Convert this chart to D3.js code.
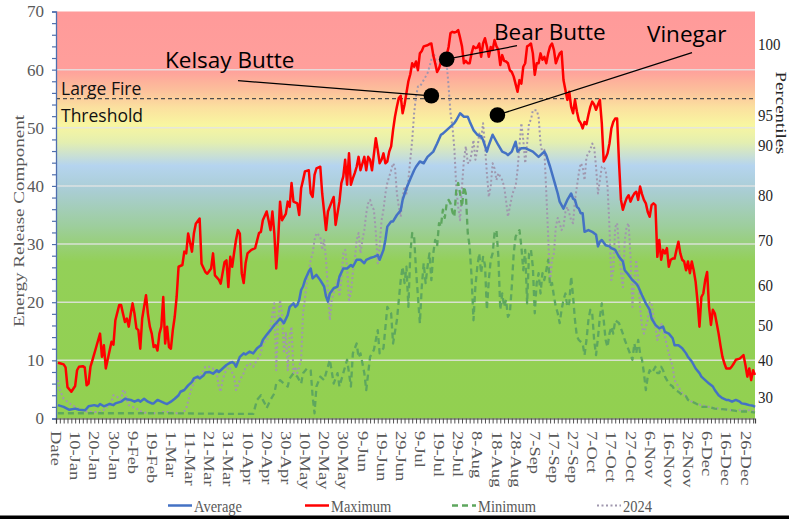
<!DOCTYPE html>
<html>
<head>
<meta charset="utf-8">
<script src="https://cdn.jsdelivr.net/npm/d3@7"></script>
<style>
  body { margin: 0; background: #fff; }
  svg { display: block; }
</style>
</head>
<body>
<div id="chart"></div>
<script>
// ERC climatology chart: max / avg / min of history plus 2024, by day of year

// x categories: index 0 is the "Date" header, then 1-Jan .. 31-Dec (365 days)
var xTickLabels = ["Date","10-Jan","20-Jan","30-Jan","9-Feb","19-Feb","1-Mar","11-Mar","21-Mar","31-Mar",
  "10-Apr","20-Apr","30-Apr","10-May","20-May","30-May","9-Jun","19-Jun","29-Jun","9-Jul","19-Jul",
  "29-Jul","8-Aug","18-Aug","28-Aug","7-Sep","17-Sep","27-Sep","7-Oct","17-Oct","27-Oct","6-Nov",
  "16-Nov","26-Nov","6-Dec","16-Dec","26-Dec"];

// right-hand percentile labels and the ERC value each one sits at
var pctLabels = [100, 95, 90, 80, 70, 60, 50, 40, 30];
var pctErc = [64.4, 52.2, 47.0, 38.4, 30.7, 23.0, 16.1, 10.1, 3.7];

var thresholdErc = 55;

// [day of year, ERC]
var maxSeries = [[1,9.6],[2,9.5],[4,9.3],[5,8.8],[6,5.4],[8,4.6],[10,5.6],[11,8.3],[12,8.9],[14,9.0],[15,8.8],[16,5.7],[17,6.0],[18,8.9],[19,10.0],[21,12.3],[23,14.6],[24,10.6],[25,12.6],[26,8.6],[28,11.7],[29,13.2],[30,12.7],[31,16.9],[33,19.5],[34,19.5],[35,18.0],[36,16.6],[37,17.2],[38,15.8],[39,18.0],[40,19.8],[41,18.0],[42,15.5],[43,15.2],[44,12.0],[45,17.2],[46,19.2],[47,21.2],[48,18.0],[49,15.8],[50,14.6],[51,12.3],[52,12.6],[53,11.7],[54,14.6],[55,15.8],[56,20.9],[57,12.9],[58,15.8],[59,12.3],[60,12.0],[61,15.2],[62,17.5],[63,20.9],[64,26.1],[66,26.4],[67,28.7],[68,28.4],[69,31.8],[71,28.7],[72,31.8],[73,33.5],[75,34.4],[76,26.6],[78,25.2],[79,24.9],[81,25.8],[82,28.4],[83,24.6],[85,23.9],[86,23.2],[88,26.9],[89,27.2],[90,22.6],[91,27.8],[92,26.1],[93,28.5],[94,30.7],[95,32.4],[96,31.8],[97,25.0],[98,23.3],[99,26.7],[100,28.4],[102,29.0],[104,29.3],[106,31.9],[107,32.1],[108,34.1],[110,35.6],[111,34.1],[112,32.4],[113,35.6],[114,31.9],[115,25.8],[116,30.7],[117,37.3],[118,34.1],[120,35.2],[121,37.3],[122,36.4],[123,40.5],[124,37.3],[126,37.0],[127,35.0],[128,39.6],[129,41.0],[130,42.5],[132,42.7],[133,38.7],[134,38.1],[135,41.9],[136,43.0],[138,43.3],[139,38.7],[140,35.6],[141,32.4],[142,35.6],[144,37.3],[145,38.1],[146,33.3],[148,37.3],[149,40.5],[150,41.6],[151,44.5],[152,40.2],[153,45.6],[154,40.2],[155,41.3],[156,42.2],[157,43.3],[158,45.0],[159,42.7],[161,45.0],[162,42.7],[163,45.0],[164,44.5],[165,42.7],[167,48.2],[168,46.2],[169,43.9],[170,44.5],[171,45.6],[172,43.9],[173,44.2],[174,45.9],[175,46.8],[176,49.6],[177,51.9],[178,53.6],[179,55.1],[180,55.5],[181,52.5],[182,54.0],[183,56.0],[184,58.0],[185,59.2],[186,61.1],[187,60.5],[188,61.4],[189,59.9],[190,62.8],[191,63.2],[192,64.0],[194,64.2],[195,64.4],[196,64.5],[197,62.5],[198,61.1],[199,59.6],[200,60.2],[201,61.3],[202,61.6],[203,61.1],[204,62.5],[205,63.9],[206,66.3],[207,66.5],[208,66.4],[209,66.5],[210,66.8],[211,65.5],[212,64.0],[213,61.1],[214,61.5],[215,61.1],[216,61.1],[217,62.8],[218,64.0],[219,63.7],[220,63.8],[221,64.5],[222,62.2],[223,64.5],[224,65.4],[225,64.0],[226,62.2],[227,63.9],[228,63.4],[229,65.1],[230,64.0],[231,63.4],[232,60.8],[233,62.5],[234,61.5],[235,61.4],[236,61.1],[237,59.9],[238,59.6],[239,58.8],[240,57.5],[241,56.2],[242,58.2],[243,57.6],[244,60.5],[245,61.1],[246,64.0],[247,64.2],[248,64.5],[249,62.8],[250,59.1],[251,61.1],[252,61.1],[253,62.8],[254,61.7],[255,62.2],[256,61.1],[257,62.8],[258,64.0],[259,64.5],[260,63.4],[261,61.1],[262,62.0],[263,62.8],[264,63.1],[265,58.2],[266,56.5],[267,54.8],[268,56.2],[269,53.6],[270,52.5],[271,54.8],[272,52.8],[273,51.3],[274,50.8],[275,49.9],[276,51.0],[277,50.6],[278,52.2],[279,53.6],[280,54.5],[281,54.0],[282,53.1],[283,54.0],[284,54.8],[285,50.8],[286,44.2],[287,44.8],[288,45.6],[289,47.3],[290,49.9],[291,51.0],[292,51.6],[293,51.6],[294,44.0],[295,37.6],[296,35.9],[297,37.0],[298,37.9],[299,38.4],[300,37.3],[301,38.1],[302,38.7],[303,39.0],[304,37.6],[305,39.9],[306,38.6],[307,37.6],[308,37.0],[309,35.5],[310,34.7],[311,36.7],[312,37.0],[313,36.7],[314,27.8],[315,30.7],[316,27.3],[317,29.0],[318,28.4],[319,29.3],[320,26.1],[321,27.3],[322,27.5],[323,27.5],[324,29.0],[325,30.4],[326,28.4],[327,27.3],[328,27.0],[329,25.5],[330,27.0],[331,25.0],[332,27.0],[333,25.5],[334,23.5],[335,20.1],[336,15.8],[337,20.9],[338,21.5],[339,23.8],[340,25.2],[341,19.2],[342,16.1],[343,18.7],[344,18.1],[345,16.4],[346,14.6],[347,12.5],[348,10.6],[349,9.5],[350,8.6],[352,8.6],[353,9.0],[354,9.5],[355,10.1],[357,10.3],[358,10.6],[359,10.9],[360,9.2],[361,7.2],[362,8.6],[363,6.6],[364,8.3],[365,7.5]];

var avgSeries = [[1,2.3],[4,2.0],[7,1.5],[10,1.7],[12,1.5],[15,1.4],[16,1.7],[17,2.1],[20,2.3],[22,2.1],[23,2.5],[25,2.1],[28,2.5],[30,2.3],[31,2.6],[34,2.9],[36,3.4],[37,3.3],[39,3.2],[41,2.9],[43,3.2],[44,2.9],[46,3.4],[48,2.9],[50,2.6],[51,2.6],[53,3.2],[55,2.9],[57,2.6],[58,2.5],[60,2.9],[62,3.4],[64,4.0],[65,4.6],[67,4.9],[69,5.7],[71,6.3],[72,6.9],[74,7.2],[75,6.9],[77,7.4],[78,7.9],[80,8.0],[82,7.7],[84,8.3],[85,8.0],[87,8.6],[89,9.2],[91,9.6],[92,9.7],[93,9.5],[94,8.9],[96,10.6],[98,11.2],[99,11.0],[101,11.5],[103,11.2],[105,12.1],[107,12.6],[108,13.5],[110,14.4],[112,15.2],[114,16.1],[115,16.4],[117,17.2],[119,16.4],[121,17.8],[122,19.2],[124,19.8],[125,19.2],[126,19.5],[127,20.4],[128,22.1],[129,22.7],[130,23.8],[132,25.3],[133,25.8],[134,24.1],[135,24.4],[136,24.7],[138,23.8],[140,22.7],[141,21.0],[142,20.1],[143,21.5],[145,22.4],[147,22.7],[148,24.4],[150,25.8],[152,25.8],[154,26.4],[155,26.1],[157,27.3],[159,27.3],[161,26.7],[162,27.3],[164,27.6],[166,27.8],[168,28.1],[169,27.3],[171,29.0],[172,30.7],[173,33.0],[175,33.9],[176,33.9],[178,35.0],[180,35.8],[181,37.6],[183,39.6],[185,41.2],[187,42.7],[188,43.3],[190,44.2],[192,43.9],[194,45.0],[195,45.3],[197,45.9],[199,47.3],[201,48.8],[202,49.0],[204,49.6],[206,50.2],[208,50.8],[209,51.3],[211,52.5],[213,51.9],[215,51.9],[216,51.1],[218,49.6],[220,48.8],[222,48.5],[223,47.9],[225,45.9],[226,47.0],[228,48.8],[229,48.2],[231,47.0],[233,45.9],[235,45.6],[236,45.3],[238,45.9],[240,47.6],[241,45.9],[243,46.5],[245,46.5],[247,46.2],[249,45.9],[250,45.6],[252,45.0],[254,45.6],[255,45.9],[256,45.3],[258,43.3],[260,41.0],[262,38.7],[263,37.3],[265,36.1],[267,37.6],[269,38.7],[270,37.8],[271,37.6],[272,36.4],[273,36.1],[274,35.3],[275,35.3],[276,32.1],[278,32.4],[280,32.1],[282,31.6],[283,29.6],[284,30.4],[285,30.7],[287,29.8],[289,29.6],[290,29.3],[292,29.0],[294,27.8],[296,27.0],[297,25.5],[299,24.7],[301,23.8],[303,23.2],[304,22.7],[306,21.2],[308,19.8],[310,18.7],[311,17.2],[313,16.1],[315,15.5],[317,15.8],[318,14.9],[320,14.6],[322,13.8],[323,12.6],[325,12.6],[327,12.1],[329,11.2],[330,10.6],[332,9.8],[334,8.6],[336,7.8],[337,7.2],[339,6.6],[341,6.0],[343,5.5],[344,4.9],[346,4.0],[348,3.5],[350,3.2],[351,3.2],[353,2.9],[355,3.2],[357,2.9],[358,2.6],[360,2.5],[362,2.3],[364,2.2],[365,2.0]];

var minSeries = [[1,0.9],[30,0.9],[60,0.9],[90,0.8],[103,0.8],[105,3.2],[107,4.0],[108,3.2],[109,2.6],[110,1.8],[112,3.2],[114,4.3],[115,6.0],[117,6.6],[119,6.0],[121,5.5],[122,6.9],[124,7.8],[126,7.2],[128,6.0],[129,7.8],[131,8.6],[133,8.3],[134,3.8],[135,0.9],[136,5.5],[138,7.2],[140,6.6],[141,7.8],[143,10.1],[145,6.0],[147,7.8],[148,5.5],[150,7.8],[152,10.1],[154,5.5],[155,11.2],[157,12.9],[158,10.5],[159,11.2],[161,7.8],[162,4.9],[164,10.6],[166,11.8],[168,15.2],[169,11.2],[171,12.1],[173,19.2],[175,18.1],[176,12.9],[178,16.9],[180,23.8],[181,26.1],[182,23.3],[183,26.1],[184,19.2],[185,28.4],[186,31.9],[187,31.3],[188,25.5],[189,21.0],[190,16.4],[191,22.7],[192,26.7],[193,23.3],[194,26.1],[195,28.4],[196,23.8],[197,28.4],[198,30.7],[199,29.6],[200,33.6],[201,33.0],[202,35.9],[203,34.5],[204,37.0],[205,37.6],[206,37.0],[207,35.5],[208,34.7],[209,39.3],[210,40.5],[211,38.7],[212,36.4],[213,39.9],[214,38.7],[215,31.9],[216,29.6],[217,24.4],[218,16.9],[219,22.7],[220,26.1],[221,28.4],[222,25.0],[223,27.8],[224,26.4],[225,18.7],[226,23.8],[227,27.3],[228,28.4],[229,31.9],[230,32.4],[231,27.8],[232,18.7],[233,21.5],[234,19.2],[235,20.4],[236,17.5],[237,18.1],[238,22.7],[239,28.4],[240,31.3],[241,31.9],[242,32.4],[243,29.6],[244,25.5],[245,29.0],[246,19.8],[247,28.4],[248,29.0],[249,26.1],[250,18.1],[251,23.3],[252,25.0],[253,21.5],[254,25.0],[255,23.8],[256,25.5],[257,27.3],[258,22.7],[259,23.3],[260,21.0],[261,19.2],[262,18.1],[263,16.4],[264,18.7],[265,20.4],[266,21.5],[267,19.2],[268,19.8],[269,24.4],[270,21.0],[271,16.9],[272,14.1],[273,13.5],[275,12.9],[276,10.9],[277,13.5],[278,16.9],[279,18.7],[280,18.1],[281,13.5],[282,10.9],[283,13.9],[284,17.5],[285,19.8],[286,16.9],[287,13.5],[288,12.3],[289,14.6],[290,15.8],[291,14.6],[292,16.9],[294,16.4],[296,14.6],[297,13.5],[299,11.8],[301,10.1],[302,12.9],[303,11.2],[304,13.5],[305,11.2],[306,10.1],[307,7.8],[308,4.9],[309,7.2],[310,8.3],[311,7.8],[312,8.3],[313,8.9],[314,7.8],[315,7.8],[316,8.9],[317,8.3],[318,7.2],[320,6.0],[322,5.5],[323,4.9],[325,4.6],[327,4.0],[329,3.8],[330,3.2],[332,2.9],[334,2.6],[337,2.0],[341,2.0],[344,1.7],[348,1.6],[351,1.5],[355,1.3],[358,1.2],[362,1.2],[365,1.0]];

var y2024Series = [[1,6.6],[2,4.9],[4,3.4],[7,2.6],[10,2.0],[14,1.4],[17,1.1],[23,1.1],[26,1.7],[29,2.9],[30,4.0],[32,3.7],[34,3.2],[35,4.9],[36,4.6],[37,3.2],[38,2.3],[42,1.7],[45,1.1],[49,0.9],[52,0.9],[56,1.1],[59,1.1],[63,0.9],[66,0.9],[68,1.7],[70,4.3],[71,5.4],[73,6.9],[75,7.2],[77,8.3],[78,8.9],[80,8.9],[82,8.6],[84,7.7],[85,5.4],[86,4.6],[87,6.6],[88,7.7],[90,8.9],[91,8.6],[93,7.2],[94,4.9],[96,6.6],[98,7.8],[99,8.9],[101,9.5],[103,8.9],[105,10.1],[107,11.2],[108,12.9],[110,13.5],[111,14.1],[112,15.8],[113,18.1],[114,19.8],[115,8.3],[116,16.9],[117,20.4],[118,18.1],[119,11.2],[120,14.9],[121,8.3],[122,14.1],[123,15.8],[124,7.8],[125,8.9],[126,7.8],[128,10.1],[129,18.1],[131,23.3],[133,27.3],[134,28.4],[135,30.7],[136,31.9],[138,31.3],[139,29.0],[140,30.7],[141,27.3],[142,22.1],[143,16.9],[144,20.5],[145,21.5],[146,22.7],[147,23.8],[148,21.0],[149,23.8],[150,28.4],[151,29.0],[152,26.1],[153,20.4],[154,21.5],[155,25.0],[156,27.3],[157,30.7],[158,31.9],[159,28.4],[160,30.7],[161,32.4],[162,35.3],[163,37.0],[164,37.6],[165,36.4],[166,35.9],[167,32.0],[168,26.7],[169,29.6],[170,34.1],[171,35.9],[172,38.7],[173,40.5],[175,42.7],[176,43.9],[177,43.3],[178,38.7],[179,36.4],[180,34.7],[181,38.1],[182,39.9],[183,38.7],[184,41.0],[185,44.5],[186,47.9],[187,52.5],[188,55.4],[189,57.1],[190,57.1],[192,58.2],[194,59.4],[195,60.5],[196,61.7],[197,62.8],[198,62.2],[199,59.9],[200,60.2],[201,61.7],[202,62.8],[203,62.0],[204,61.1],[205,57.1],[206,52.5],[207,50.2],[208,46.5],[209,39.9],[210,36.4],[211,34.1],[212,39.9],[213,44.5],[214,46.8],[215,44.0],[216,43.9],[217,45.6],[218,47.9],[219,44.5],[220,46.2],[221,49.0],[222,48.0],[223,50.8],[224,46.8],[225,42.2],[226,38.1],[227,39.9],[228,43.9],[229,43.0],[230,41.0],[231,42.2],[232,41.6],[233,41.0],[234,39.9],[235,37.5],[236,34.7],[237,36.4],[238,38.1],[239,39.3],[240,39.9],[241,42.7],[242,47.0],[243,50.8],[244,47.9],[245,43.9],[246,47.3],[247,50.8],[248,51.4],[249,53.0],[250,53.0],[251,53.0],[252,51.9],[253,47.3],[254,45.6],[255,46.2],[256,39.0],[257,31.3],[258,23.3],[259,27.3],[260,28.4],[261,33.0],[262,34.5],[263,33.6],[264,32.4],[265,33.0],[266,35.5],[267,36.4],[268,35.3],[269,34.1],[270,33.6],[271,37.6],[272,39.9],[273,42.2],[274,43.9],[275,43.3],[276,41.0],[277,45.0],[278,45.6],[279,46.2],[280,47.3],[281,46.7],[282,43.3],[283,38.7],[284,41.0],[285,43.3],[286,43.3],[287,42.7],[288,39.9],[289,32.9],[290,23.8],[291,25.5],[292,32.9],[293,33.6],[294,29.6],[295,25.0],[296,22.6],[297,30.7],[298,33.0],[299,33.6],[300,27.8],[301,19.2],[302,23.8],[303,27.3],[304,24.0],[305,19.2],[306,15.8],[307,14.6],[308,15.8],[309,17.0],[310,20.0],[311,19.8],[312,17.5],[313,15.8],[314,13.5],[315,14.6],[316,16.4],[317,15.2],[318,14.0],[320,11.2],[322,8.9],[323,6.6],[325,5.5],[327,4.3],[329,3.8],[330,3.2],[334,2.6],[337,2.3],[341,2.0],[344,1.8],[348,1.6],[351,1.5],[355,1.3],[358,1.5],[362,1.4],[365,1.2]];

// fires marked on the chart
var fireNames = ["Kelsay Butte", "Bear Butte", "Vinegar"];
var fireDays = [196, 204, 230.5];
var fireErc = [55.5, 61.8, 52.2];

var legendNames = ["Average", "Maximum", "Minimum", "2024"];

//------------------------------------------------------------
var svgWidth = 789;
var svgHeight = 519;
var plot = {left: 56, right: 755, top: 11.5, bottom: 418.5};

var serif = "'Liberation Serif', 'Times New Roman', serif";
var sans = "'Open Sans', 'Noto Sans', sans-serif";
var grey = "#595959";

var svg = d3.select("#chart")
    .append("svg")
    .attr("width", svgWidth)
    .attr("height", svgHeight);

var xScale = d3.scaleLinear().domain([0, 365]).range([plot.left, plot.right]);
var yScale = d3.scaleLinear().domain([0, 70]).range([plot.bottom, plot.top]);

// background colour bands (red at top fading to green)
var grad = svg.append("defs").append("linearGradient")
    .attr("id", "bg")
    .attr("gradientUnits", "userSpaceOnUse")
    .attr("x1", 0).attr("x2", 0)
    .attr("y1", yScale(70)).attr("y2", yScale(0));
var bgStops = [[70, "#ff9a9a"], [60, "#ff9f9b"], [56.5, "#fcbf9b"], [53.5, "#fbe09f"], [50.5, "#f8f6a0"],
  [47.5, "#e4efb0"], [43.5, "#b5d4ef"], [39, "#a9cdd2"], [33, "#9dce9c"], [27, "#93d058"], [0, "#92d050"]];
bgStops.forEach(function(s) {
    grad.append("stop").attr("offset", (70 - s[0]) / 70).attr("stop-color", s[1]);
});

svg.append("rect")
    .attr("x", plot.left)
    .attr("y", plot.top)
    .attr("width", plot.right - plot.left)
    .attr("height", plot.bottom - plot.top)
    .attr("fill", "url(#bg)");

// horizontal gridlines
svg.selectAll(".grid")
    .data(d3.range(10, 70, 10))
    .enter()
    .append("line")
    .attr("x1", plot.left)
    .attr("x2", plot.right)
    .attr("y1", d => yScale(d))
    .attr("y2", d => yScale(d))
    .attr("stroke", "#e4e4e4")
    .attr("stroke-opacity", 0.85)
    .attr("stroke-width", 1.5);

// large fire threshold
svg.append("line")
    .attr("x1", plot.left)
    .attr("x2", plot.right)
    .attr("y1", yScale(thresholdErc))
    .attr("y2", yScale(thresholdErc))
    .attr("stroke", "#4d4d4d")
    .attr("stroke-width", 1.3)
    .attr("stroke-dasharray", "4,3");

// series lines
var line = d3.line()
    .x(d => xScale(d[0]))
    .y(d => yScale(d[1]));

var seriesStyle = [
    {data: y2024Series, color: "#a097ae", width: 2, dash: "2,2.5"},
    {data: minSeries, color: "#5ea75e", width: 2.3, dash: "6,4"},
    {data: avgSeries, color: "#4472c4", width: 2.5, dash: null},
    {data: maxSeries, color: "#ff0000", width: 2.5, dash: null}
];
seriesStyle.forEach(function(s) {
    svg.append("path")
        .datum(s.data)
        .attr("fill", "none")
        .attr("stroke", s.color)
        .attr("stroke-width", s.width)
        .attr("stroke-linejoin", "round")
        .attr("stroke-dasharray", s.dash)
        .attr("d", line);
});

// left axis
var yAxis = d3.axisLeft(yScale)
    .tickValues(d3.range(0, 71, 2))
    .tickSize(4)
    .tickPadding(8)
    .tickFormat(d => d % 10 === 0 ? d : "");
var yAxisG = svg.append("g")
    .attr("transform", `translate(${plot.left},0)`)
    .call(yAxis);
yAxisG.select(".domain").attr("stroke", "#4f6fae").attr("stroke-width", 1.3);
yAxisG.selectAll(".tick line").attr("stroke", "#4f6fae").attr("stroke-width", 1.2);
yAxisG.selectAll(".tick text")
    .attr("fill", grey)
    .style("font-family", serif)
    .style("font-size", "17px");

// bottom axis (category ticks)
var xAxis = d3.axisBottom(xScale)
    .tickValues(d3.range(0, 366, 2))
    .tickSize(5)
    .tickFormat("");
var xAxisG = svg.append("g")
    .attr("transform", `translate(0,${plot.bottom})`)
    .call(xAxis);
xAxisG.select(".domain").attr("stroke", "#404040").attr("stroke-width", 1.2);
xAxisG.selectAll(".tick line").attr("stroke", "#404040").attr("stroke-width", 0.9);

svg.selectAll(".xlab")
    .data(xTickLabels)
    .enter()
    .append("text")
    .attr("transform", (d, i) => `translate(${xScale(i * 10)},431) rotate(90) scale(1.32,1)`)
    .attr("dy", "0.35em")
    .attr("fill", grey)
    .style("font-family", serif)
    .style("font-size", "14px")
    .text(d => d);

// right percentile labels
svg.selectAll(".pct")
    .data(pctLabels)
    .enter()
    .append("text")
    .attr("transform", (d, i) => `translate(758,${yScale(pctErc[i])}) scale(1,1.15)`)
    .attr("dy", "0.35em")
    .attr("fill", "#262626")
    .style("font-family", serif)
    .style("font-size", "15px")
    .text(d => d);

// axis titles
svg.append("text")
    .attr("transform", "translate(19,221) rotate(-90) scale(1.27,1)")
    .attr("text-anchor", "middle")
    .attr("dy", "0.35em")
    .attr("fill", grey)
    .style("font-family", serif)
    .style("font-size", "15px")
    .text("Energy Release Component");

svg.append("text")
    .attr("transform", "translate(781,113) rotate(90) scale(1.26,1)")
    .attr("text-anchor", "middle")
    .attr("dy", "0.35em")
    .attr("fill", "#262626")
    .style("font-family", serif)
    .style("font-size", "15px")
    .text("Percentiles");

// threshold label
svg.append("text")
    .attr("x", 61).attr("y", 95)
    .style("font-family", sans)
    .style("font-size", "17.5px")
    .attr("fill", "#111")
    .text("Large Fire");
svg.append("text")
    .attr("x", 61).attr("y", 121.5)
    .style("font-family", sans)
    .style("font-size", "17.5px")
    .attr("fill", "#111")
    .text("Threshold");

// fire callouts: label position and leader start in pixels
var callout = [
    {tx: 165, ty: 67.5, lx: 238, ly: 80.7},
    {tx: 494, ty: 40, lx: 517, ly: 45.7},
    {tx: 647, ty: 41.5, lx: 692, ly: 52.7}
];
fireNames.forEach(function(name, i) {
    var cx = xScale(fireDays[i]);
    var cy = yScale(fireErc[i]);
    svg.append("line")
        .attr("x1", callout[i].lx).attr("y1", callout[i].ly)
        .attr("x2", cx).attr("y2", cy)
        .attr("stroke", "#000")
        .attr("stroke-width", 1.3);
    svg.append("circle")
        .attr("cx", cx).attr("cy", cy)
        .attr("r", 7.8)
        .attr("fill", "#000");
    svg.append("text")
        .attr("x", callout[i].tx).attr("y", callout[i].ty)
        .style("font-family", sans)
        .style("font-size", "22.5px")
        .attr("fill", "#000")
        .text(name);
});

// legend
var legendX = [168, 305, 452, 597];
var legendLook = [
    {color: "#4472c4", width: 2.5, dash: null},
    {color: "#ff0000", width: 2.5, dash: null},
    {color: "#5ea75e", width: 2.3, dash: "6,4"},
    {color: "#a097ae", width: 2, dash: "2,2.5"}
];
legendNames.forEach(function(name, i) {
    svg.append("line")
        .attr("x1", legendX[i]).attr("x2", legendX[i] + 24)
        .attr("y1", 505.5).attr("y2", 505.5)
        .attr("stroke", legendLook[i].color)
        .attr("stroke-width", legendLook[i].width)
        .attr("stroke-dasharray", legendLook[i].dash);
    svg.append("text")
        .attr("transform", `translate(${legendX[i] + 26},506) scale(1,1.22)`)
        .attr("dy", "0.35em")
        .attr("fill", grey)
        .style("font-family", serif)
        .style("font-size", "14.5px")
        .text(name);
});

// dark rule along the bottom edge
svg.append("rect")
    .attr("x", 0).attr("y", 515.5)
    .attr("width", svgWidth).attr("height", 4)
    .attr("fill", "#000");
</script>
</body>
</html>
